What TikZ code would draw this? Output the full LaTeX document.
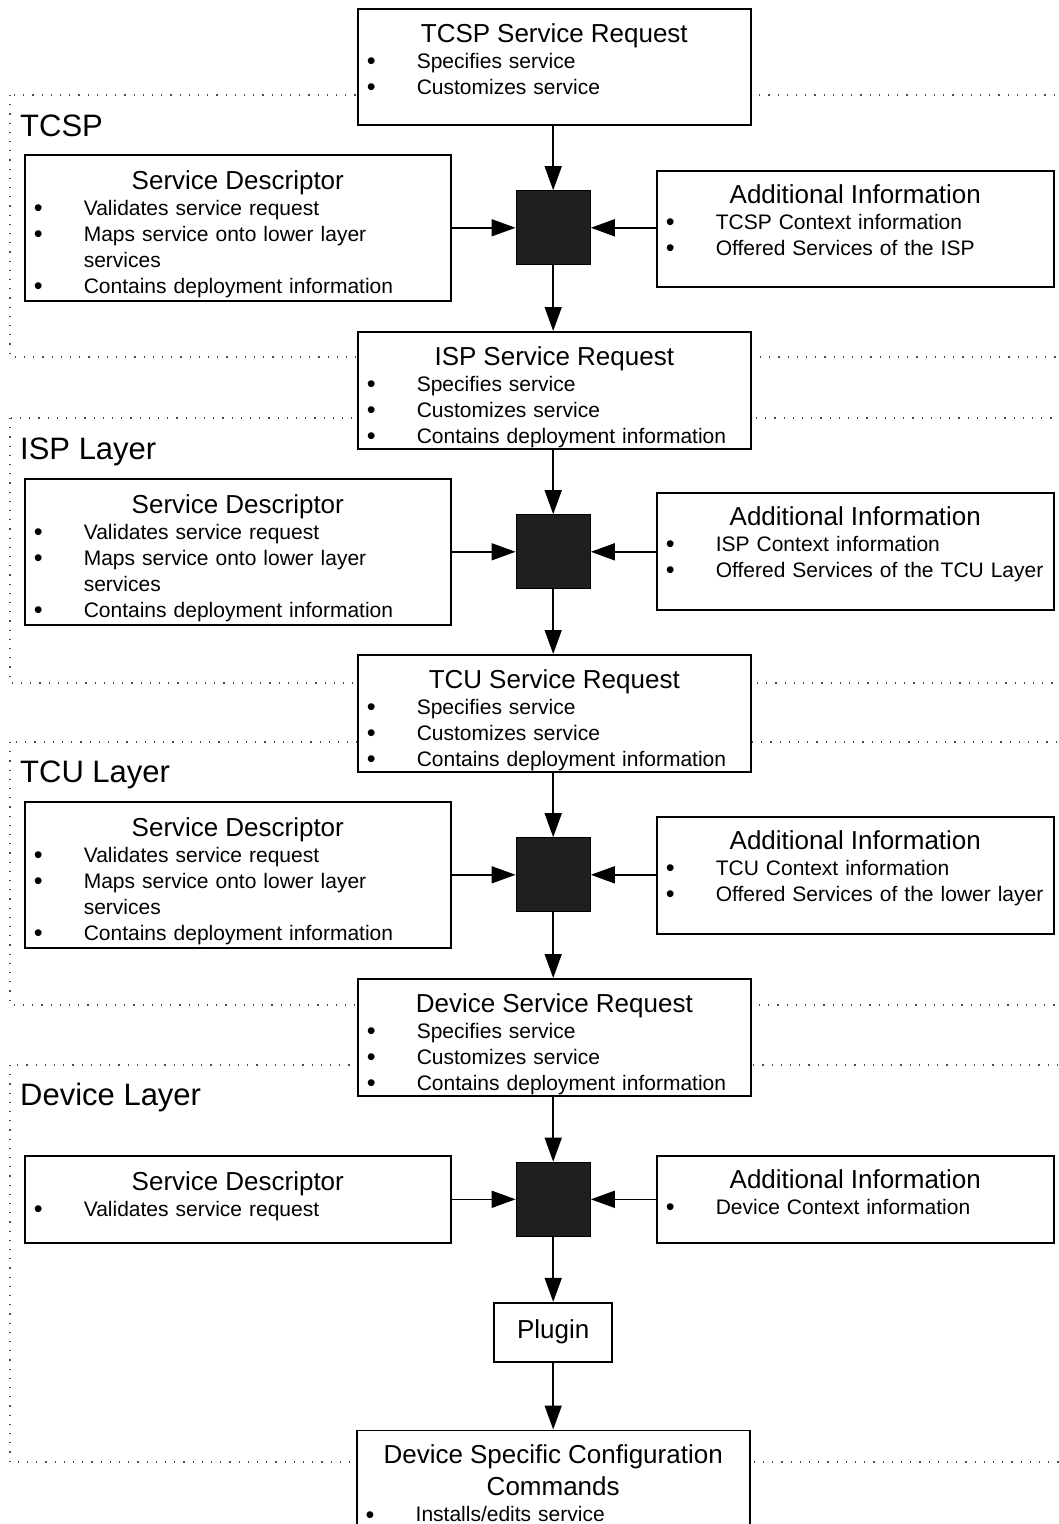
\documentclass[tikz,border=0pt]{standalone}
\usepackage{fontspec}
\setmainfont{Liberation Sans}
\usepackage{tikz}
\usetikzlibrary{positioning,arrows.meta}
\tikzstyle{box} = [rectangle, draw=black, line width=1.6pt, fill=white, inner sep=0pt, anchor=north west]
\tikzstyle{arrow} = [line width=1.6pt, -{Triangle[length=24pt, width=17pt]}]
\tikzstyle{layer} = [draw=black!70, line width=1.1pt, dash pattern=on 1.2pt off 8pt]
\newcommand{\ttl}[1]{\makebox[\linewidth][c]{\fontsize{26}{26}\selectfont #1}}
\newcommand{\itm}{\hspace*{9pt}\makebox[50pt][l]{\raisebox{-1.5pt}{\scalebox{1.2}{\textbullet}}}}

\begin{document}
\begin{tikzpicture}[x=1pt, y=-1pt]
\tikzset{%
	txt/.style = {inner sep=0pt, align=left, font=\fontsize{21}{26}\selectfont},
	blk/.style = {rectangle, draw=black, line width=1.2pt, fill=black!88, minimum size=74pt, inner sep=0pt},
	lbl/.style = {anchor=base west, inner sep=0pt, font=\fontsize{31}{31}\selectfont}
}
\useasboundingbox (0,0) rectangle (1059,1524);

% layers
\draw [layer] (10,95) rectangle (1080,357);
\draw [layer] (10,418) rectangle (1080,683);
\draw [layer] (10,742) rectangle (1080,1005);
\draw [layer] (10,1065) rectangle (1080,1462);
\node(lb1) [lbl] at (20,136) {TCSP};
\node(lb2) [lbl] at (20,459) {ISP Layer};
\node(lb3) [lbl] at (20,782) {TCU Layer};
\node(lb4) [lbl] at (20,1105) {Device Layer};

% TCSP
\node(rq1) [box, minimum width=393pt, minimum height=116pt] at (357,8) {};
\node(rq1t) [txt, text width=393pt, below=15pt of rq1.north] {\ttl{TCSP Service Request}\\
	\itm Specifies service\\
	\itm Customizes service};

\node(sd1) [box, minimum width=426pt, minimum height=146pt] at (24,154) {};
\node(sd1t) [txt, text width=426pt, below=16pt of sd1.north] {\ttl{Service Descriptor}\\
	\itm Validates service request\\
	\itm Maps service onto lower layer\\
	\hspace*{59pt}services\\
	\itm Contains deployment information};

\node(ai1) [box, minimum width=397pt, minimum height=116pt] at (656,170) {};
\node(ai1t) [txt, text width=397pt, below=14pt of ai1.north] {\ttl{Additional Information}\\
	\itm TCSP Context information\\
	\itm Offered Services of the ISP};

\node(sq1) [blk, right=64pt of sd1] {};

% ISP
\node(rq2) [box, minimum width=393pt, minimum height=117pt] at (357,331) {};
\node(rq2t) [txt, text width=393pt, below=15pt of rq2.north] {\ttl{ISP Service Request}\\
	\itm Specifies service\\
	\itm Customizes service\\
	\itm Contains deployment information};

\node(sd2) [box, minimum width=426pt, minimum height=146pt] at (24,478) {};
\node(sd2t) [txt, text width=426pt, below=16pt of sd2.north] {\ttl{Service Descriptor}\\
	\itm Validates service request\\
	\itm Maps service onto lower layer\\
	\hspace*{59pt}services\\
	\itm Contains deployment information};

\node(ai2) [box, minimum width=397pt, minimum height=117pt] at (656,492) {};
\node(ai2t) [txt, text width=397pt, below=14pt of ai2.north] {\ttl{Additional Information}\\
	\itm ISP Context information\\
	\itm Offered Services of the TCU Layer};

\node(sq2) [blk, right=64pt of sd2] {};

% TCU
\node(rq3) [box, minimum width=393pt, minimum height=117pt] at (357,654) {};
\node(rq3t) [txt, text width=393pt, below=15pt of rq3.north] {\ttl{TCU Service Request}\\
	\itm Specifies service\\
	\itm Customizes service\\
	\itm Contains deployment information};

\node(sd3) [box, minimum width=426pt, minimum height=146pt] at (24,801) {};
\node(sd3t) [txt, text width=426pt, below=16pt of sd3.north] {\ttl{Service Descriptor}\\
	\itm Validates service request\\
	\itm Maps service onto lower layer\\
	\hspace*{59pt}services\\
	\itm Contains deployment information};

\node(ai3) [box, minimum width=397pt, minimum height=117pt] at (656,816) {};
\node(ai3t) [txt, text width=397pt, below=14pt of ai3.north] {\ttl{Additional Information}\\
	\itm TCU Context information\\
	\itm Offered Services of the lower layer};

\node(sq3) [blk, right=64pt of sd3] {};

% Device
\node(rq4) [box, minimum width=393pt, minimum height=117pt] at (357,978) {};
\node(rq4t) [txt, text width=393pt, below=15pt of rq4.north] {\ttl{Device Service Request}\\
	\itm Specifies service\\
	\itm Customizes service\\
	\itm Contains deployment information};

\node(sd4) [box, minimum width=426pt, minimum height=87pt] at (24,1155) {};
\node(sd4t) [txt, text width=426pt, below=16pt of sd4.north] {\ttl{Service Descriptor}\\
	\itm Validates service request};

\node(ai4) [box, minimum width=397pt, minimum height=87pt] at (656,1155) {};
\node(ai4t) [txt, text width=397pt, below=14pt of ai4.north] {\ttl{Additional Information}\\
	\itm Device Context information};

\node(sq4) [blk, right=64pt of sd4] {};

\node(plg) [box, anchor=center, minimum width=118pt, minimum height=59pt, font=\fontsize{26}{26}\selectfont, below=65pt of sq4] {Plugin};

\node(cfg) [box, minimum width=393pt, minimum height=120pt, below=67pt of plg] {};
\node(cfgt) [txt, text width=393pt, below=15pt of cfg.north] {\ttl{Device Specific Configuration}\\[6pt]
	\ttl{Commands}\\
	\itm Installs/edits service};

\draw [arrow] (rq1.south -| sq1) -- (sq1.north);
\draw [arrow] (sd1.east) -- (sq1.west);
\draw [arrow] (ai1.west |- sq1) -- (sq1.east);
\draw [arrow] (sq1.south) -- (rq2.north -| sq1);
\draw [arrow] (rq2.south -| sq2) -- (sq2.north);
\draw [arrow] (sd2.east) -- (sq2.west);
\draw [arrow] (ai2.west |- sq2) -- (sq2.east);
\draw [arrow] (sq2.south) -- (rq3.north -| sq2);
\draw [arrow] (rq3.south -| sq3) -- (sq3.north);
\draw [arrow] (sd3.east) -- (sq3.west);
\draw [arrow] (ai3.west |- sq3) -- (sq3.east);
\draw [arrow] (sq3.south) -- (rq4.north -| sq3);
\draw [arrow] (rq4.south -| sq4) -- (sq4.north);
\draw [arrow] (sd4.east) -- (sq4.west);
\draw [arrow] (ai4.west |- sq4) -- (sq4.east);
\draw [arrow] (sq4) -- (plg);
\draw [arrow] (plg) -- (cfg);
\end{tikzpicture}
\end{document}
